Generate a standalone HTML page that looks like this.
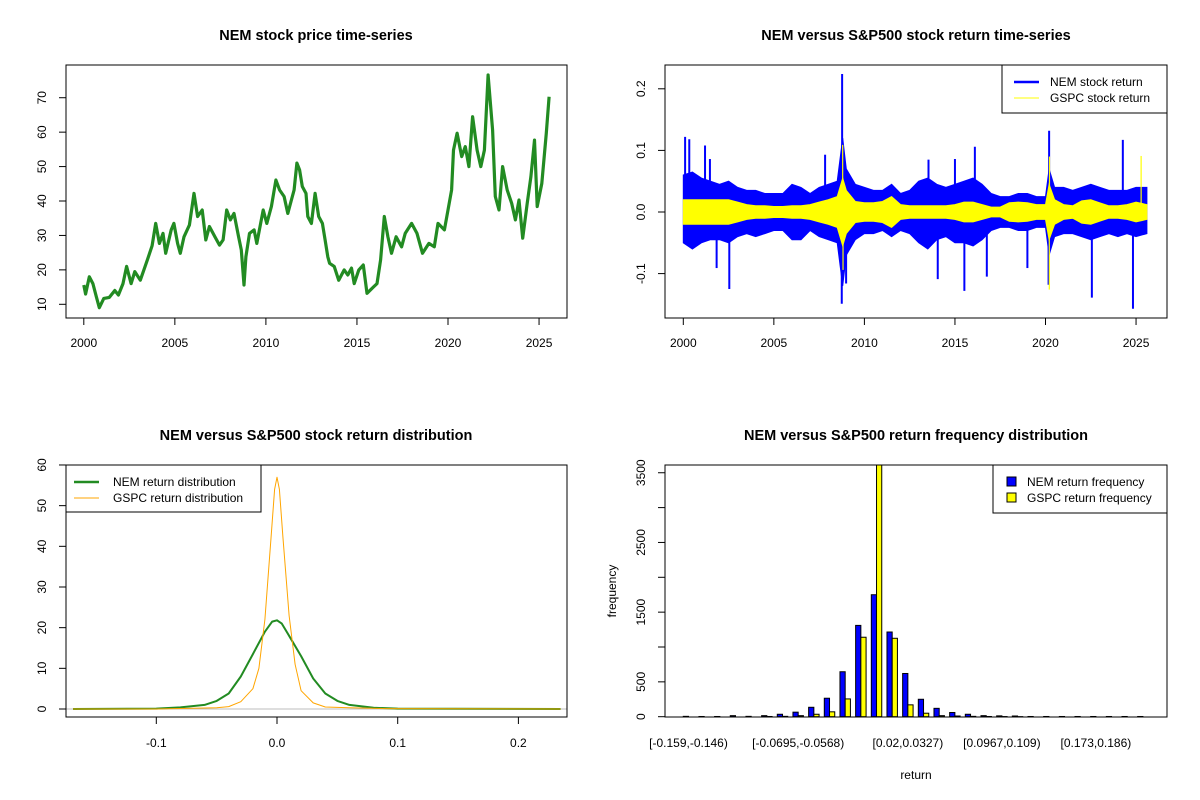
<!DOCTYPE html>
<html><head><meta charset="utf-8"><style>
body{margin:0;background:#fff;}
svg{display:block;font-family:"Liberation Sans",Arial,sans-serif;}
</style></head><body>
<svg id="chart" width="1200" height="800" viewBox="0 0 1200 800" xmlns="http://www.w3.org/2000/svg">
<rect x="0" y="0" width="1200" height="800" fill="#fff"/>
<text x="316" y="40" text-anchor="middle" font-size="14.5" font-weight="bold">NEM stock price time-series</text>
<text x="916" y="40" text-anchor="middle" font-size="14.5" font-weight="bold">NEM versus S&amp;P500 stock return time-series</text>
<text x="316" y="440" text-anchor="middle" font-size="14.5" font-weight="bold">NEM versus S&amp;P500 stock return distribution</text>
<text x="916" y="440" text-anchor="middle" font-size="14.5" font-weight="bold">NEM versus S&amp;P500 return frequency distribution</text>
<g id="g1"></g>
<g id="g2"></g>
<g id="g3"></g>
<g id="g4"></g>
</svg>
<script>
// ---------- Panel 1 data: NEM price ----------
const priceYears=[2000,2000.1,2000.3,2000.5,2000.7,2000.85,2001.1,2001.4,2001.7,2001.9,2002.15,2002.35,2002.6,2002.8,2003.1,2003.3,2003.5,2003.75,2003.95,2004.15,2004.35,2004.5,2004.8,2004.95,2005.15,2005.3,2005.5,2005.8,2006.05,2006.25,2006.5,2006.7,2006.9,2007.2,2007.45,2007.65,2007.85,2008.05,2008.25,2008.5,2008.65,2008.8,2008.9,2009.1,2009.35,2009.5,2009.85,2010.05,2010.3,2010.55,2010.75,2011.0,2011.2,2011.4,2011.55,2011.7,2011.85,2012.0,2012.2,2012.3,2012.5,2012.7,2012.9,2013.1,2013.25,2013.4,2013.5,2013.75,2014.0,2014.3,2014.5,2014.7,2014.85,2015.1,2015.35,2015.55,2015.9,2016.1,2016.3,2016.5,2016.7,2016.9,2017.15,2017.45,2017.65,2018.0,2018.3,2018.6,2018.95,2019.25,2019.45,2019.8,2020.0,2020.2,2020.3,2020.5,2020.75,2020.95,2021.15,2021.35,2021.6,2021.8,2022.0,2022.2,2022.45,2022.6,2022.8,2023.0,2023.25,2023.5,2023.7,2023.9,2024.1,2024.35,2024.55,2024.75,2024.9,2025.15,2025.4,2025.55];
const priceValues=[15.6,13,18,16,12,9,11.7,12,14,12.7,16,21,16,19.5,17,20,23,27,33.5,27.7,30.6,24.8,31.6,33.5,27.7,24.8,29.6,33,42.2,35.5,37.4,28.7,32.6,29.6,27.2,28.7,37.4,34.5,36.4,29.6,25.8,15.6,23.8,30.6,31.6,27.7,37.4,33.5,38.4,46.1,43.2,41.3,36.4,40.3,43.2,51,49,44.2,42.2,35.5,33.5,42.2,35.5,33.5,28.7,23.8,21.9,21,17,20,18.5,20.5,16,20,21.4,13.2,15,16,22.9,35.5,29.6,24.8,29.6,26.7,30.6,33.5,30.6,24.8,27.7,26.7,33.5,31.6,37.4,43.2,54.8,59.7,52.9,55.8,50,64.5,54.8,50,54.8,76.6,60.6,41.3,37.4,50,43.2,39.3,34.5,40.3,29.2,39.3,47.1,57.7,38.4,45.1,59.7,70.3];
const priceYTicks=[10,20,30,40,50,60,70];
const yearTicks=[2000,2005,2010,2015,2020,2025];

// ---------- Panel 2 data: returns ----------
const bandYears=[2000,2000.5,2001,2001.5,2002,2002.5,2003,2003.5,2004,2004.5,2005,2005.5,2006,2006.5,2007,2007.5,2008,2008.5,2008.8,2009,2009.5,2010,2010.5,2011,2011.5,2012,2012.5,2013,2013.5,2014,2014.5,2015,2015.5,2016,2016.5,2017,2017.5,2018,2018.5,2019,2019.5,2020,2020.2,2020.5,2021,2021.5,2022,2022.5,2023,2023.5,2024,2024.5,2025,2025.6];
const nemHigh=[0.06,0.065,0.055,0.05,0.045,0.05,0.04,0.035,0.035,0.03,0.03,0.03,0.045,0.04,0.03,0.04,0.045,0.05,0.12,0.07,0.045,0.04,0.035,0.035,0.045,0.03,0.035,0.05,0.055,0.045,0.04,0.045,0.05,0.055,0.045,0.03,0.025,0.025,0.03,0.03,0.025,0.025,0.07,0.04,0.04,0.035,0.04,0.045,0.04,0.035,0.035,0.035,0.04,0.04];
const nemLow=[-0.05,-0.06,-0.05,-0.045,-0.045,-0.05,-0.04,-0.035,-0.04,-0.035,-0.03,-0.03,-0.045,-0.045,-0.03,-0.04,-0.045,-0.05,-0.12,-0.07,-0.045,-0.035,-0.035,-0.03,-0.04,-0.03,-0.035,-0.05,-0.06,-0.045,-0.04,-0.05,-0.05,-0.055,-0.045,-0.03,-0.025,-0.025,-0.03,-0.03,-0.025,-0.025,-0.07,-0.04,-0.035,-0.035,-0.04,-0.045,-0.04,-0.035,-0.04,-0.035,-0.04,-0.035];
const gspcHigh=[0.02,0.02,0.02,0.02,0.02,0.02,0.016,0.012,0.01,0.01,0.009,0.009,0.01,0.01,0.012,0.016,0.02,0.025,0.055,0.035,0.017,0.015,0.015,0.017,0.025,0.012,0.01,0.01,0.01,0.01,0.01,0.012,0.016,0.016,0.012,0.008,0.008,0.015,0.016,0.015,0.012,0.012,0.045,0.02,0.012,0.01,0.018,0.02,0.015,0.01,0.01,0.012,0.016,0.012];
const gspcLow=gspcHigh.map(v=>-v);
const nemSpikeYears=[2000.1,2000.33,2001.2,2002.54,2001.84,2001.47,2007.83,2008.77,2008.75,2008.99,2014.05,2015.52,2016.1,2016.76,2020.2,2020.17,2022.56,2024.27,2024.83,2019.0,2013.54,2015.0];
const nemSpikeValues=[0.122,0.118,0.108,-0.125,-0.091,0.086,0.093,0.224,-0.149,-0.116,-0.109,-0.128,0.106,-0.105,0.132,-0.118,-0.139,0.117,-0.157,-0.091,0.085,0.086];
const gspcSpikeYears=[2008.8,2008.82,2020.22,2020.21,2025.28];
const gspcSpikeValues=[0.109,-0.094,0.09,-0.126,0.091];
const returnYTicks=[-0.1,0.0,0.1,0.2];

// ---------- Panel 3 data: densities ----------
const nemDensX=[-0.169,-0.1,-0.08,-0.06,-0.05,-0.04,-0.03,-0.02,-0.01,-0.004,0,0.004,0.01,0.02,0.03,0.04,0.05,0.06,0.08,0.1,0.235];
const nemDensY=[0,0.1,0.4,1,2,3.8,8,13.5,19,21.5,21.8,21,18,13,7.5,3.8,2,1,0.3,0.1,0];
const gspcDensX=[-0.169,-0.1,-0.05,-0.04,-0.03,-0.02,-0.015,-0.01,-0.005,-0.002,0,0.002,0.005,0.01,0.015,0.02,0.03,0.04,0.06,0.09,0.235];
const gspcDensY=[0,0,0.3,0.6,1.8,5,10,22,42,54,57,54,42,23,11,4.5,1.5,0.5,0.3,0.1,0];
const densXTicks=[-0.1,0.0,0.1,0.2];
const densYTicks=[0,10,20,30,40,50,60];

// ---------- Panel 4 data: histogram ----------
const binLabels=["[-0.159,-0.146)","","","","","","","[-0.0695,-0.0568)","","","","","","","[0.02,0.0327)","","","","","","[0.0967,0.109)","","","","","","[0.173,0.186)","","",""];
const nemFreq=[5,3,3,15,5,15,35,65,135,265,645,1310,1750,1215,620,250,120,60,35,15,12,10,3,3,3,3,3,3,3,3];
const gspcFreq=[0,0,0,0,0,3,5,15,35,70,255,1140,3900,1125,170,50,15,10,5,3,2,1,0,0,0,0,0,0,0,0];
const freqYTicks=[0,500,1000,1500,2000,2500,3000,3500];
const freqYLabels=["0","500","","1500","","2500","","3500"];

const NS="http://www.w3.org/2000/svg";
function mk(parent,tag,attrs,text){const e=document.createElementNS(NS,tag);for(const k in attrs)e.setAttribute(k,attrs[k]);if(text!==undefined)e.textContent=text;parent.appendChild(e);return e;}
function fmt(v){return v.toFixed(1);}

// ---------- Panel 1 ----------
(function(){
const g=document.getElementById('g1');
const X=y=>83.8+(y-2000)*18.21, Y=v=>304.3-(v-10)*3.443;
let d=priceYears.map((yr,i)=>(i?'L':'M')+X(yr).toFixed(1)+','+Y(priceValues[i]).toFixed(1)).join('');
const p=mk(g,'path',{d:d,fill:'none',stroke:'#228B22','stroke-width':3.2,'stroke-linejoin':'round'});


mk(g,'rect',{x:66,y:65,width:501,height:253,fill:'none',stroke:'#000'});
yearTicks.forEach(t=>{mk(g,'line',{x1:X(t),x2:X(t),y1:318,y2:325,stroke:'#000'});
const tx=mk(g,'text',{x:X(t),y:347,'text-anchor':'middle','font-size':12},String(t));

});
priceYTicks.forEach(t=>{mk(g,'line',{x1:59,x2:66,y1:Y(t),y2:Y(t),stroke:'#000'});
const tx=mk(g,'text',{x:0,y:0,'text-anchor':'middle','font-size':12,transform:`translate(46,${Y(t)}) rotate(-90)`},String(t));

});
})();

// ---------- Panel 2 ----------
(function(){
const g=document.getElementById('g2');
const X=y=>683.3+(y-2000)*18.11, Y=v=>212-v*616;
function band(hi,lo,col,name){
 let d=bandYears.map((yr,i)=>(i?'L':'M')+X(yr).toFixed(1)+','+Y(hi[i]).toFixed(1)).join('');
 for(let i=bandYears.length-1;i>=0;i--)d+='L'+X(bandYears[i]).toFixed(1)+','+Y(lo[i]).toFixed(1);
 const p=mk(g,'path',{d:d+'Z',fill:col,stroke:col,'stroke-width':1});
 
 
}
function spikes(xs,vs,col,w,name){
 xs.forEach((yr,i)=>{const l=mk(g,'line',{x1:X(yr),x2:X(yr),y1:Y(0),y2:Y(vs[i]),stroke:col,'stroke-width':w});
 
 });
}
band(nemHigh,nemLow,'#0000FF','nem-return-band');
spikes(nemSpikeYears,nemSpikeValues,'#0000FF',2,'nem-return-spike');
band(gspcHigh,gspcLow,'#FFFF00','gspc-return-band');
spikes(gspcSpikeYears,gspcSpikeValues,'#FFFF00',1.2,'gspc-return-spike');
mk(g,'rect',{x:665,y:65,width:502,height:253,fill:'none',stroke:'#000'});
yearTicks.forEach(t=>{mk(g,'line',{x1:X(t),x2:X(t),y1:318,y2:325,stroke:'#000'});
const tx=mk(g,'text',{x:X(t),y:347,'text-anchor':'middle','font-size':12},String(t));

});
returnYTicks.forEach(t=>{mk(g,'line',{x1:658,x2:665,y1:Y(t),y2:Y(t),stroke:'#000'});
const tx=mk(g,'text',{x:0,y:0,'text-anchor':'middle','font-size':12,transform:`translate(645,${Y(t)}) rotate(-90)`},fmt(t));

});
const lg=mk(g,'g',{});


mk(lg,'rect',{x:1002,y:65,width:165,height:48,fill:'#fff',stroke:'#000'});
mk(lg,'line',{x1:1014,x2:1039,y1:82,y2:82,stroke:'#0000FF','stroke-width':2.5});
mk(lg,'line',{x1:1014,x2:1039,y1:98,y2:98,stroke:'#FFFF00','stroke-width':1});
mk(lg,'text',{x:1050,y:86,'font-size':12},'NEM stock return');
mk(lg,'text',{x:1050,y:102,'font-size':12},'GSPC stock return');
})();

// ---------- Panel 3 ----------
(function(){
const g=document.getElementById('g3');
const X=v=>277+v*1207, Y=v=>709-v*4.067;
mk(g,'line',{x1:66,x2:567,y1:Y(0),y2:Y(0),stroke:'#BEBEBE'});
function curve(xs,ys,col,w,name){
 const d=xs.map((x,i)=>(i?'L':'M')+X(x).toFixed(1)+','+Y(ys[i]).toFixed(1)).join('');
 const p=mk(g,'path',{d:d,fill:'none',stroke:col,'stroke-width':w,'stroke-linejoin':'round'});
 
 
}
curve(nemDensX,nemDensY,'#228B22',2,'nem-density-line');
curve(gspcDensX,gspcDensY,'#FFA500',1,'gspc-density-line');
mk(g,'rect',{x:66,y:465,width:501,height:252,fill:'none',stroke:'#000'});
densXTicks.forEach(t=>{mk(g,'line',{x1:X(t),x2:X(t),y1:717,y2:724,stroke:'#000'});
const tx=mk(g,'text',{x:X(t),y:747,'text-anchor':'middle','font-size':12},fmt(t));

});
densYTicks.forEach(t=>{mk(g,'line',{x1:59,x2:66,y1:Y(t),y2:Y(t),stroke:'#000'});
const tx=mk(g,'text',{x:0,y:0,'text-anchor':'middle','font-size':12,transform:`translate(46,${Y(t)}) rotate(-90)`},String(t));

});
const lg=mk(g,'g',{});


mk(lg,'rect',{x:66,y:465,width:195,height:47,fill:'#fff',stroke:'#000'});
mk(lg,'line',{x1:74,x2:99,y1:482,y2:482,stroke:'#228B22','stroke-width':2.5});
mk(lg,'line',{x1:74,x2:99,y1:498,y2:498,stroke:'#FFA500','stroke-width':1});
mk(lg,'text',{x:113,y:486,'font-size':12},'NEM return distribution');
mk(lg,'text',{x:113,y:502,'font-size':12},'GSPC return distribution');
})();

// ---------- Panel 4 ----------
(function(){
const g=document.getElementById('g4');
const X=u=>688.5+(u-2)*5.223, Y=v=>716.7-v*0.0697;
const cp=mk(g,'clipPath',{id:'clip4'});mk(cp,'rect',{x:665,y:465,width:502,height:252});
const bars=mk(g,'g',{'clip-path':'url(#clip4)'});
nemFreq.forEach((v,i)=>{
 const u=1+3*i;
 const b=mk(bars,'rect',{x:X(u),y:Y(v),width:5.223,height:Y(0)-Y(v),fill:'#0000FF',stroke:'#000','stroke-width':1});
 
 
 const c=mk(bars,'rect',{x:X(u+1),y:Y(gspcFreq[i]),width:5.223,height:Y(0)-Y(gspcFreq[i]),fill:'#FFFF00',stroke:'#000','stroke-width':1});
 
 
 if(binLabels[i]){const tx=mk(g,'text',{x:X(u+1),y:747,'text-anchor':'middle','font-size':12},binLabels[i]);
 
 }
});
mk(g,'rect',{x:665,y:465,width:502,height:252,fill:'none',stroke:'#000'});
freqYTicks.forEach((t,i)=>{mk(g,'line',{x1:658,x2:665,y1:Y(t),y2:Y(t),stroke:'#000'});
if(freqYLabels[i]){const tx=mk(g,'text',{x:0,y:0,'text-anchor':'middle','font-size':12,transform:`translate(645,${Y(t)}) rotate(-90)`},freqYLabels[i]);

}});
const xt=mk(g,'text',{x:916,y:779,'text-anchor':'middle','font-size':12},'return');


const yt=mk(g,'text',{x:0,y:0,'text-anchor':'middle','font-size':12,transform:'translate(616,591) rotate(-90)'},'frequency');


const lg=mk(g,'g',{});


mk(lg,'rect',{x:993,y:465,width:174,height:48,fill:'#fff',stroke:'#000'});
mk(lg,'rect',{x:1007,y:477,width:9,height:9,fill:'#0000FF',stroke:'#000'});
mk(lg,'rect',{x:1007,y:493,width:9,height:9,fill:'#FFFF00',stroke:'#000'});
mk(lg,'text',{x:1027,y:486,'font-size':12},'NEM return frequency');
mk(lg,'text',{x:1027,y:502,'font-size':12},'GSPC return frequency');
})();
</script>
</body></html>
